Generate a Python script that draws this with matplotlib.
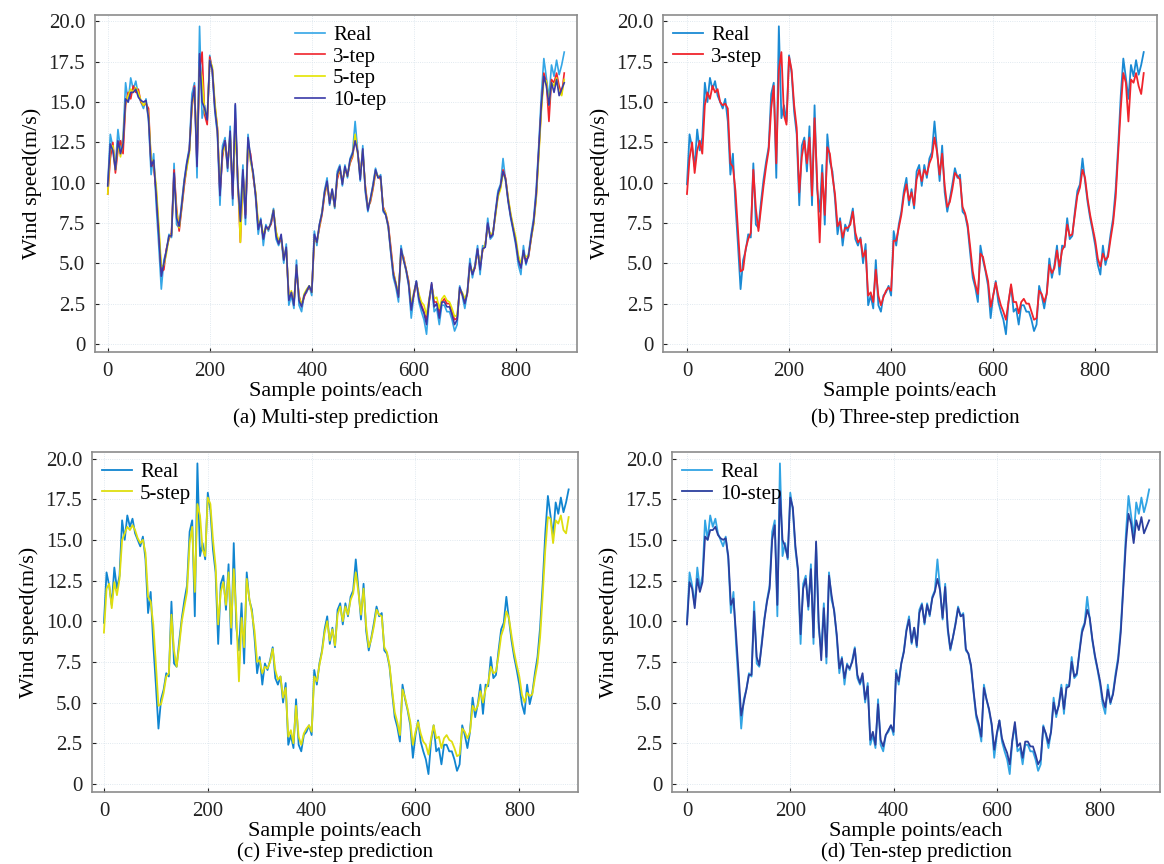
import numpy as np
import matplotlib
matplotlib.use("Agg")
import matplotlib.pyplot as plt

plt.rcParams['font.family'] = ['Liberation Serif', 'DejaVu Serif']

# sample index (every 5 samples)
sample_idx = np.arange(0, 900, 5)

real = [
    9.9, 13.0, 12.2, 11.0, 13.3, 12.0, 12.8, 16.2, 15.0, 16.5,
    15.8, 16.3, 15.4, 15.0, 14.6, 15.2, 13.8, 10.5, 11.8, 8.6,
    6.1, 3.4, 5.2, 5.8, 6.8, 6.6, 11.2, 7.4, 7.2, 8.8,
    10.2, 11.3, 12.2, 15.5, 16.2, 10.3, 19.7, 14.0, 14.8, 13.8,
    17.9, 16.8, 14.4, 13.0, 8.6, 12.3, 12.8, 10.7, 13.5, 8.6,
    14.8, 9.6, 8.2, 11.1, 7.4, 13.0, 11.3, 10.7, 9.0, 6.8,
    7.8, 6.1, 7.4, 7.0, 7.6, 8.4, 6.5, 6.1, 6.6, 5.0,
    6.2, 2.4, 3.0, 2.2, 5.2, 2.4, 2.0, 3.0, 3.2, 3.6,
    3.0, 7.0, 6.1, 7.4, 8.2, 9.5, 10.3, 8.6, 9.6, 8.4,
    10.7, 11.1, 9.8, 11.1, 10.3, 11.5, 11.9, 13.8, 12.0, 10.1,
    12.3, 9.4, 8.2, 9.0, 9.9, 10.9, 10.3, 10.5, 8.2, 8.0,
    7.2, 5.6, 4.1, 3.5, 2.6, 6.1, 5.2, 4.5, 3.6, 1.6,
    3.0, 3.9, 2.6, 2.0, 1.5, 0.6, 2.6, 3.6, 2.0, 2.2,
    1.2, 2.4, 2.4, 2.0, 2.0, 1.5, 0.8, 1.2, 3.6, 3.0,
    2.2, 3.2, 5.3, 4.1, 4.9, 6.1, 4.3, 6.1, 6.0, 7.8,
    6.5, 6.7, 8.2, 9.5, 9.9, 11.5, 10.1, 8.8, 7.8, 7.0,
    6.1, 4.9, 4.3, 6.1, 4.9, 5.6, 6.8, 7.8, 9.6, 12.3,
    15.4, 17.7, 16.5, 15.2, 17.3, 16.6, 17.6, 16.7, 17.3, 18.1,
]

step3 = [
    9.3, 11.5, 12.5, 10.6, 12.0, 12.6, 11.8, 14.8, 15.6, 15.2,
    16.0, 15.6, 15.8, 15.0, 14.8, 14.9, 14.6, 11.2, 11.0, 9.5,
    7.0, 4.5, 4.6, 5.9, 6.5, 6.9, 10.8, 8.4, 7.0, 8.4,
    9.8, 11.0, 12.0, 14.6, 16.0, 11.2, 17.0, 18.1, 14.2, 13.6,
    17.8, 17.0, 14.8, 13.4, 9.4, 11.6, 12.6, 11.2, 12.8, 9.2,
    14.0, 10.2, 6.3, 10.6, 8.0, 12.2, 11.8, 10.4, 9.3, 7.3,
    7.6, 6.6, 7.2, 7.2, 7.4, 8.2, 6.9, 6.3, 6.5, 5.4,
    5.8, 3.0, 3.2, 2.6, 4.6, 3.0, 2.4, 2.9, 3.3, 3.5,
    3.3, 6.4, 6.4, 7.2, 8.0, 9.2, 9.9, 8.9, 9.4, 8.6,
    10.2, 10.8, 10.1, 10.8, 10.5, 11.2, 11.6, 12.8, 11.9, 10.5,
    11.8, 9.8, 8.5, 8.8, 9.6, 10.6, 10.4, 10.2, 8.5, 8.1,
    7.4, 6.0, 4.5, 3.7, 3.1, 5.6, 5.4, 4.6, 3.9, 2.3,
    3.0, 3.8, 3.0, 2.4, 2.0, 1.5, 2.6, 3.7, 2.6, 2.6,
    1.9, 2.6, 2.8, 2.5, 2.5, 2.0, 1.5, 1.6, 3.3, 3.1,
    2.6, 3.1, 4.9, 4.4, 4.7, 5.8, 4.8, 5.8, 6.1, 7.4,
    6.7, 6.8, 8.0, 9.2, 9.7, 10.8, 10.3, 9.0, 8.0, 7.2,
    6.4, 5.3, 4.8, 5.6, 5.2, 5.4, 6.5, 7.5, 9.1, 11.8,
    14.6, 16.8, 16.2, 13.8, 16.4, 16.2, 16.8, 16.0, 15.5, 16.8,
]

step5 = [
    9.3, 12.0, 12.3, 10.8, 12.4, 11.6, 12.6, 15.0, 15.4, 15.8,
    15.6, 15.9, 15.6, 15.1, 14.8, 15.0, 14.2, 11.5, 11.2, 9.8,
    7.4, 4.8, 4.9, 5.6, 6.6, 6.8, 10.4, 8.2, 7.2, 8.5,
    10.0, 10.9, 11.8, 14.8, 15.8, 11.8, 17.2, 16.5, 14.4, 14.0,
    17.6, 17.2, 15.0, 13.4, 9.8, 11.8, 12.4, 11.0, 13.0, 9.6,
    13.2, 10.4, 6.3, 10.2, 8.4, 12.6, 11.4, 10.5, 9.4, 7.5,
    7.6, 6.8, 7.2, 7.1, 7.5, 8.3, 7.0, 6.4, 6.6, 5.3,
    5.9, 2.9, 3.3, 2.5, 4.8, 2.9, 2.4, 3.1, 3.4, 3.6,
    3.2, 6.6, 6.3, 7.3, 8.1, 9.3, 10.0, 8.8, 9.5, 8.5,
    10.4, 10.9, 10.0, 10.9, 10.4, 11.3, 11.7, 13.0, 11.8, 10.4,
    12.0, 9.7, 8.4, 8.9, 9.7, 10.7, 10.4, 10.3, 8.4, 8.1,
    7.3, 5.8, 4.4, 3.8, 3.0, 5.8, 5.3, 4.6, 3.8, 2.4,
    3.2, 3.8, 3.1, 2.6, 2.4, 1.8, 2.8, 3.6, 2.8, 2.9,
    2.2, 2.8, 3.0, 2.7, 2.6, 2.2, 1.7, 1.8, 3.4, 3.2,
    2.8, 3.2, 4.8, 4.5, 4.8, 5.7, 5.0, 5.8, 6.2, 7.2,
    6.8, 6.9, 7.9, 9.1, 9.6, 10.6, 10.2, 9.1, 8.1, 7.3,
    6.6, 5.5, 5.0, 5.6, 5.4, 5.5, 6.5, 7.4, 9.0, 11.6,
    14.4, 16.4, 16.3, 14.8, 16.2, 16.0, 16.5, 15.6, 15.4, 16.4,
]

step10 = [
    9.8, 12.4, 12.0, 10.8, 12.6, 11.8, 12.4, 15.2, 15.0, 15.6,
    15.6, 15.8, 15.3, 15.1, 15.0, 15.1, 14.0, 11.0, 11.4, 9.2,
    6.8, 4.2, 5.0, 5.8, 6.7, 6.7, 10.6, 7.8, 7.3, 8.6,
    10.1, 11.2, 12.0, 15.0, 15.9, 11.0, 18.0, 15.0, 14.6, 13.9,
    17.6, 17.0, 14.6, 13.2, 9.2, 12.0, 12.6, 10.9, 13.2, 9.0,
    14.9, 10.0, 7.6, 10.8, 7.8, 12.8, 11.6, 10.6, 9.2, 7.1,
    7.7, 6.5, 7.3, 7.1, 7.5, 8.3, 6.7, 6.2, 6.8, 5.2,
    6.0, 2.7, 3.2, 2.4, 4.9, 2.7, 2.3, 3.0, 3.3, 3.6,
    3.2, 6.8, 6.3, 7.4, 8.1, 9.4, 10.1, 8.7, 9.6, 8.5,
    10.5, 11.0, 9.9, 11.0, 10.4, 11.4, 11.8, 12.6, 11.9, 10.2,
    12.1, 9.6, 8.3, 9.0, 9.8, 10.8, 10.3, 10.4, 8.3, 8.0,
    7.3, 5.7, 4.3, 3.7, 2.9, 5.9, 5.2, 4.6, 3.7, 2.1,
    3.1, 3.9, 2.8, 2.3, 1.9, 1.2, 2.7, 3.8, 2.3, 2.5,
    1.6, 2.6, 2.6, 2.3, 2.3, 1.8, 1.2, 1.5, 3.5, 3.1,
    2.5, 3.2, 5.0, 4.3, 4.8, 5.9, 4.6, 5.9, 6.0, 7.5,
    6.6, 6.8, 8.1, 9.3, 9.8, 10.7, 10.2, 8.9, 7.9, 7.1,
    6.3, 5.2, 4.7, 5.8, 5.0, 5.5, 6.6, 7.6, 9.3, 12.0,
    14.8, 16.6, 16.0, 14.8, 16.2, 15.6, 16.4, 15.4, 15.8, 16.2,
]

x_ticks = [0, 200, 400, 600, 800]
y_ticks = [0, 2.5, 5.0, 7.5, 10.0, 12.5, 15.0, 17.5, 20.0]
y_tick_labels = ['0', '2.5', '5.0', '7.5', '10.0', '12.5', '15.0', '17.5', '20.0']
captions = ['(a) Multi-step prediction', '(b) Three-step prediction',
            '(c) Five-step prediction', '(d) Ten-step prediction']
x_label = 'Sample points/each'
y_label = 'Wind speed(m/s)'

c_3 = '#f0242c'
c_10 = '#3a3aa8'
c_10d = '#2b3f9e'

W, H = 1164, 864
fig = plt.figure(figsize=(W / 100, H / 100), dpi=100)


def add_ax(x0, y0, x1, y1):
    return fig.add_axes([x0 / W, 1 - y1 / H, (x1 - x0) / W, (y1 - y0) / H])


axes = [add_ax(95, 15, 577, 352), add_ax(663, 15, 1157, 352),
        add_ax(92, 452, 578, 792), add_ax(672, 452, 1160, 792)]
xlims = [(-25, 920), (-47, 921), (-23, 913), (-29, 916)]
caption_pos = [(336, 418), (915, 418), (335, 852), (916, 852)]

leg_kw = dict(frameon=False, fontsize=15, handlelength=1.4, handletextpad=0.4,
              borderaxespad=0.1, labelspacing=0.1)

ax = axes[0]
ax.plot(sample_idx, real, color='#34a6e6', lw=1.2, label='Real')
ax.plot(sample_idx, step3, color=c_3, lw=1.2, label='3-tep')
ax.plot(sample_idx, step5, color='#e4e400', lw=1.2, label='5-tep')
ax.plot(sample_idx, step10, color=c_10, lw=1.2, label='10-tep')
ax.legend(loc='upper center', bbox_to_anchor=(0.51, 1.0), **leg_kw)

ax = axes[1]
ax.plot(sample_idx, real, color='#1a8ad4', lw=1.3, label='Real')
ax.plot(sample_idx, step3, color=c_3, lw=1.3, label='3-step')
ax.legend(loc='upper left', **leg_kw)

ax = axes[2]
ax.plot(sample_idx, real, color='#1085d0', lw=1.3, label='Real')
ax.plot(sample_idx, step5, color='#dede10', lw=1.3, label='5-step')
ax.legend(loc='upper left', **leg_kw)

ax = axes[3]
ax.plot(sample_idx, real, color='#31a4e4', lw=1.3, label='Real')
ax.plot(sample_idx, step10, color=c_10d, lw=1.3, label='10-step')
ax.legend(loc='upper left', **leg_kw)

for ax, cap, xl, cp in zip(axes, captions, xlims, caption_pos):
    ax.set_xlim(*xl)
    ax.set_ylim(-0.5, 20.4)
    ax.set_xticks(x_ticks)
    ax.set_yticks(y_ticks)
    ax.set_yticklabels(y_tick_labels)
    ax.tick_params(direction='in', length=3, labelsize=15, colors='#222222',
                   pad=7)
    for sp in ax.spines.values():
        sp.set_color('#8c8c8c')
        sp.set_linewidth(1.2)
    ax.grid(True, color='#d6e2ea', lw=0.6, ls=':')
    ax.set_xlabel(x_label, fontsize=16, labelpad=1)
    ax.set_ylabel(y_label, fontsize=16, labelpad=5)
    fig.text(cp[0] / W, 1 - cp[1] / H, cap, ha='center', va='center',
             fontsize=15)

fig.savefig('out.png', dpi=100)
